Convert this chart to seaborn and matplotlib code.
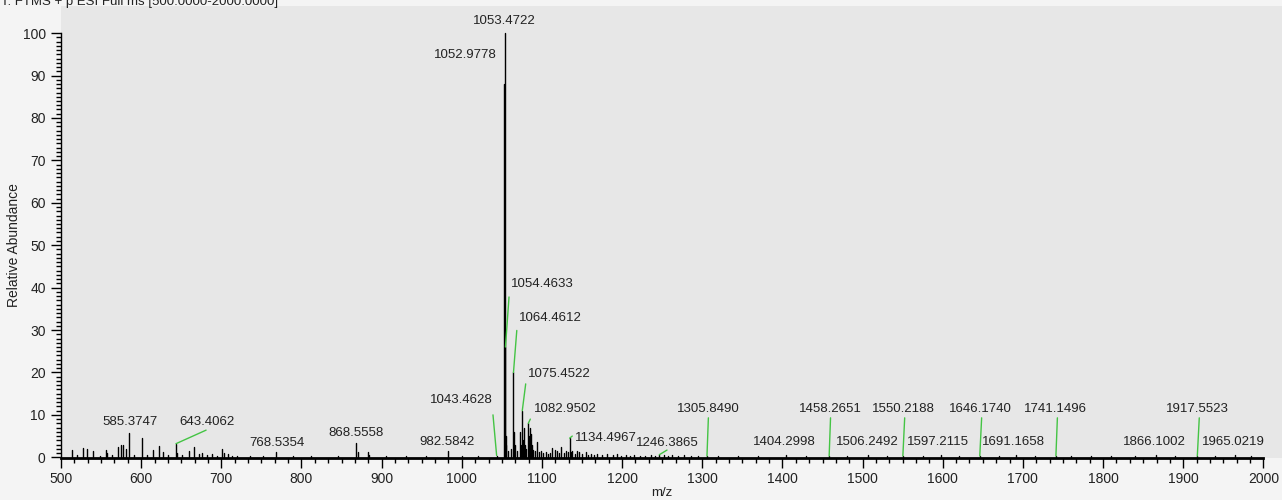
import matplotlib
matplotlib.use("Agg")
import numpy as np
import pandas as pd
import seaborn as sns
import matplotlib.pyplot as plt
from matplotlib.ticker import FixedLocator

# ---------------- data ----------------
peak_mz = [
    513.3, 520.0, 527.5, 532.6, 540.5, 549.0, 556.5, 558.0, 564.0, 571.2, 574.8, 577.5,
    581.7, 585.3747, 591.0, 600.5, 607.0, 614.3, 622.5, 627.8, 633.0, 643.4062, 645.0,
    651.0, 659.5, 666.2, 672.0, 675.5, 682.0, 688.5, 695.0, 700.5, 703.0, 708.0, 713.0,
    720.0, 736.0, 752.0, 768.5354, 790.0, 812.0, 845.0, 868.5558, 870.0, 882.5, 884.0,
    905.0, 930.0, 955.0, 982.5842, 1000.0, 1020.0,
    1043.4628, 1052.9778, 1053.4722, 1054.4633, 1055.0, 1055.5, 1058.0, 1061.5,
    1064.4612, 1065.0, 1066.0, 1068.5, 1072.3, 1073.5, 1075.4522, 1076.2, 1077.6,
    1079.0, 1080.5, 1082.9502, 1083.6, 1084.7, 1086.0, 1087.3, 1089.0, 1091.0, 1093.5,
    1096.0, 1098.5, 1101.0, 1104.7, 1107.0, 1110.0, 1113.0, 1116.0, 1119.3, 1121.5,
    1124.3, 1127.0, 1129.7, 1132.0, 1134.4967, 1136.0, 1138.0, 1141.0, 1144.2, 1146.3,
    1150.0, 1154.6, 1157.0, 1160.8, 1165.0, 1169.0, 1175.0, 1181.6, 1188.0, 1194.0,
    1199.0, 1204.5, 1210.0, 1214.6, 1222.0, 1228.0, 1235.7, 1241.0, 1246.3865, 1252.0,
    1257.0, 1262.7, 1270.0, 1276.8, 1285.5, 1295.0,
    1305.8490, 1320.0, 1345.0, 1370.0, 1404.2998, 1430.0, 1458.2651, 1480.0, 1506.2492,
    1530.0, 1550.2188, 1575.0, 1597.2115, 1620.0, 1646.1740, 1670.0, 1691.1658, 1715.0,
    1741.1496, 1760.0, 1785.0, 1810.0, 1840.0, 1866.1002, 1890.0, 1917.5523, 1940.0,
    1965.0219, 1985.0,
]
peak_int = [
    1.7, 0.5, 2.2, 1.9, 1.5, 0.4, 1.7, 1.0, 0.5, 2.5, 2.9, 3.0,
    2.0, 5.7, 0.6, 4.6, 0.5, 1.8, 2.6, 1.2, 0.5, 3.2, 1.0,
    0.5, 1.5, 2.5, 0.7, 1.0, 0.5, 0.8, 0.4, 2.0, 1.0, 0.8, 0.4,
    0.3, 0.3, 0.3, 1.2, 0.3, 0.3, 0.3, 3.3, 1.2, 1.2, 0.5,
    0.3, 0.3, 0.3, 1.4, 0.3, 0.3,
    0.4, 88.0, 100.0, 26.0, 5.0, 3.0, 1.5, 2.0,
    20.0, 6.0, 3.0, 1.5, 6.0, 3.0, 11.0, 4.0, 6.8,
    3.0, 2.0, 8.0, 5.0, 7.0, 5.5, 3.0, 1.8, 1.5, 3.6,
    1.2, 1.5, 1.0, 1.2, 0.8, 1.0, 2.3, 1.8, 1.4, 1.0,
    2.5, 1.0, 1.5, 1.2, 4.5, 1.2, 1.5, 0.8, 1.5, 1.2,
    0.8, 1.2, 0.6, 0.8, 0.6, 0.7, 0.5, 0.8, 0.5, 0.8,
    0.4, 0.5, 0.4, 0.5, 0.4, 0.4, 0.6, 0.4, 0.6, 0.6,
    0.4, 0.5, 0.4, 0.5, 0.4, 0.3,
    0.3, 0.2, 0.2, 0.2, 0.5, 0.2, 0.3, 0.2, 0.5,
    0.2, 0.3, 0.2, 0.5, 0.2, 0.3, 0.2, 0.5, 0.2,
    0.3, 0.2, 0.2, 0.2, 0.2, 0.5, 0.2, 0.3, 0.2,
    0.5, 0.2,
]

label_mz = [
    1053.4722, 1052.9778, 1054.4633, 1064.4612, 1075.4522, 1082.9502, 1134.4967,
    1246.3865, 1043.4628, 982.5842, 868.5558, 768.5354, 643.4062, 585.3747,
    1305.8490, 1404.2998, 1458.2651, 1506.2492, 1550.2188, 1597.2115, 1646.1740,
    1691.1658, 1741.1496, 1866.1002, 1917.5523, 1965.0219,
]

x_ticks = list(range(500, 2001, 100))
y_ticks = list(range(0, 101, 10))
x_label = "m/z"
y_label = "Relative Abundance"
header = "T: FTMS + p ESI Full ms [500.0000-2000.0000]"

# ---------------- label layout (text position, alignment, leader end) ----------------
label_tx = [1053.4722, 1043.0, 1061.4, 1071.4, 1082.2, 1089.9, 1141.2,
            1257.0, 999.9, 981.0, 868.0, 769.0, 681.7, 586.0,
            1307.0, 1402.4, 1459.3, 1505.5, 1550.8, 1594.5, 1646.5,
            1688.0, 1740.0, 1863.5, 1917.5, 1962.4]
label_ty = [102.8, 94.9, 40.9, 32.9, 19.7, 11.4, 4.6,
            3.4, 13.5, 3.7, 5.7, 3.4, 8.2, 8.2,
            11.3, 3.7, 11.3, 3.7, 11.3, 3.7, 11.3,
            3.7, 11.3, 3.7, 11.3, 3.7]
label_ha = ["center", "right", "left", "left", "left", "left", "left",
            "center", "center", "center", "center", "center", "center", "center",
            "center", "center", "center", "center", "center", "center", "center",
            "center", "center", "center", "center", "center"]
leader_x = [None, None, 1058.9, 1068.6, 1079.7, 1085.5, 1137.8,
            1256.0, 1038.9, None, None, None, 681.0, None,
            1307.6, None, 1460.0, None, 1552.5, None, 1648.5,
            None, 1743.0, None, 1920.0, None]
leader_y = [None, None, 37.8, 29.9, 17.3, 9.0, 5.0,
            1.7, 10.0, None, None, None, 6.4, None,
            9.3, None, 9.3, None, 9.3, None, 9.3,
            None, 9.3, None, 9.3, None]

# ---------------- style ----------------
sns.set_theme(style="ticks")
plt.rcParams["font.family"] = ["Liberation Sans", "DejaVu Sans"]
FS = 9.5
TXT = "#222222"

fig = plt.figure(figsize=(12.82, 5.0), dpi=100, facecolor="#f4f4f4")
ax = fig.add_axes([61 / 1282, 42 / 500, 1221 / 1282, 452 / 500])
ax.set_facecolor("#e7e7e7")

# sticks
rows = []
for i, (m, v) in enumerate(zip(peak_mz, peak_int)):
    rows.append({"peak": i, "mz": m, "intensity": 0.0})
    rows.append({"peak": i, "mz": m, "intensity": v})
df = pd.DataFrame(rows)
sns.lineplot(data=df, x="mz", y="intensity", units="peak", estimator=None, sort=False,
             color="black", lw=1.0, ax=ax, legend=False)

# leaders and labels
int_lookup = dict(zip(peak_mz, peak_int))
for m, tx, ty, ha, lx, ly in zip(label_mz, label_tx, label_ty, label_ha, leader_x, leader_y):
    if lx is not None:
        ax.plot([m, lx], [int_lookup[m], ly], color="#44c444", lw=1.0)
    ax.text(tx, ty, f"{m:.4f}", ha=ha, va="center", fontsize=FS, color=TXT)

ax.set_xlim(500, 2023.2)
ax.set_ylim(-0.17, 106.4)

for s in ["top", "right"]:
    ax.spines[s].set_visible(False)
ax.spines["left"].set_bounds(0, 100)
ax.spines["bottom"].set_bounds(500, 2000)
ax.spines["bottom"].set_linewidth(2.0)
ax.spines["left"].set_linewidth(1.0)
ax.spines["left"].set_color("black")
ax.spines["bottom"].set_color("black")

ax.set_xticks(x_ticks)
ax.set_yticks(y_ticks)
ax.set_xticklabels([str(t) for t in x_ticks])
ax.set_yticklabels([str(t) for t in y_ticks])
xminor = [500 + k * 100 / 6 for k in range(0, 91) if k % 6 != 0]
yminor = [k for k in range(0, 101) if k % 10 != 0]
ax.xaxis.set_minor_locator(FixedLocator(xminor))
ax.yaxis.set_minor_locator(FixedLocator(yminor))
ax.tick_params(which="major", direction="out", length=7, width=1, color="black",
               labelsize=FS + 0.5, labelcolor=TXT)
ax.tick_params(axis="y", which="major", pad=4)
ax.tick_params(axis="x", which="major", pad=3)
ax.tick_params(which="minor", direction="out", length=3.5, width=1, color="black")

ax.set_xlabel(x_label, fontsize=FS, color=TXT)
ax.set_ylabel(y_label, fontsize=FS + 0.5, color=TXT)
ax.xaxis.set_label_coords(0.4918, -0.064)
ax.yaxis.set_label_coords(-0.0328, 0.471)

fig.text(0.001, 0.996, header, ha="left", va="center", fontsize=FS, color=TXT)

fig.savefig("out.png", dpi=100, facecolor=fig.get_facecolor())
